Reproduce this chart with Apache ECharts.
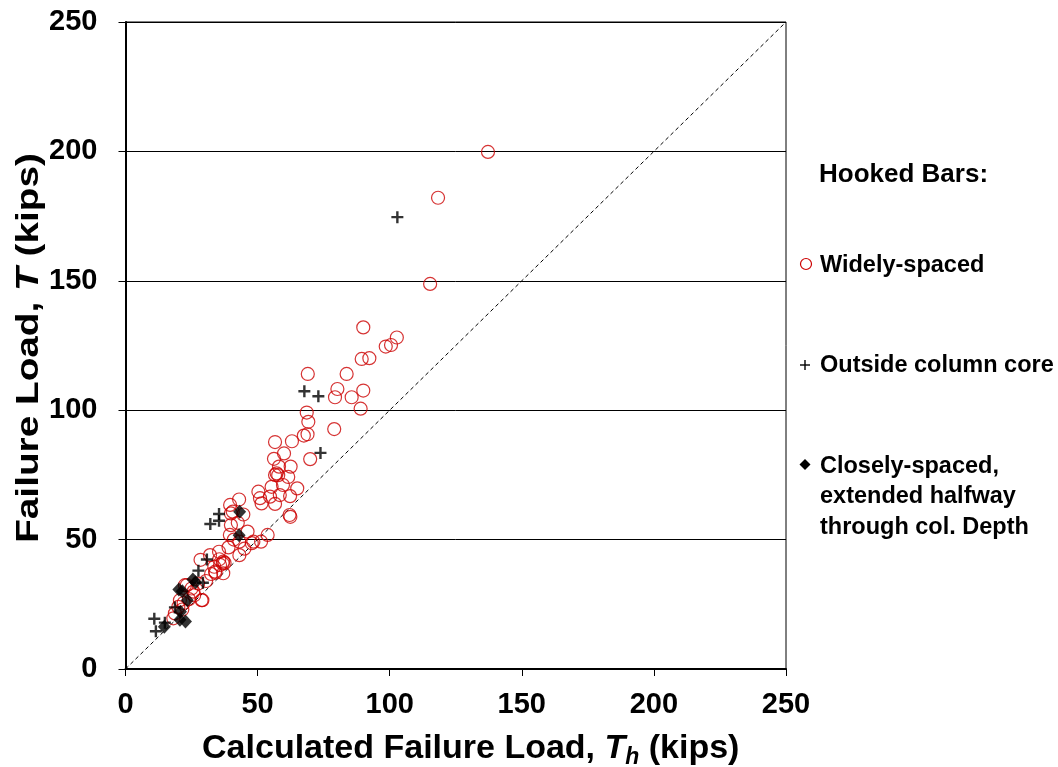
<!DOCTYPE html>
<html>
<head>
<meta charset="utf-8">
<script src="https://cdn.jsdelivr.net/npm/echarts@6/dist/echarts.min.js"></script>
<style>html,body{margin:0;padding:0;background:#fff;}#c{width:1058px;height:767px;}</style>
</head>
<body>
<div id="c"></div>
<script>
const axisTicks = [0, 50, 100, 150, 200, 250];
const diagonal = [[0, 0], [250, 250]];
const widelySpaced = [
  [137.2,199.8],[118.3,182.1],[115.3,148.8],[102.7,128.1],[90.0,132.0],[98.5,124.6],[100.5,125.2],
  [89.4,119.8],[92.3,120.1],[69.0,114.0],[83.7,114.0],[80.2,108.2],[90.0,107.6],[79.3,105.0],
  [85.6,105.0],[89.0,100.6],[68.6,99.1],[69.2,95.5],[79.0,92.7],[67.5,90.2],[68.9,90.7],
  [56.6,87.7],[63.0,88.0],[60.0,83.3],[56.2,81.2],[69.9,81.1],[58.1,78.2],[62.5,78.2],
  [57.2,75.6],[57.8,74.9],[56.6,75.0],[61.6,74.2],[55.3,70.4],[59.6,71.1],[65.0,69.8],
  [58.4,67.2],[62.3,66.8],[50.3,68.5],[50.9,66.0],[54.7,66.6],[51.5,64.0],[56.6,63.8],
  [62.1,59.5],[62.4,58.8],[43.0,65.5],[39.9,60.1],[44.6,59.7],[39.6,63.4],[40.6,60.8],
  [39.9,55.6],[42.5,56.5],[46.2,53.1],[39.5,51.8],[41.0,50.0],[47.8,48.6],[51.3,49.2],
  [53.8,51.8],[43.1,49.2],[48.4,49.2],[43.1,44.0],[45.0,46.5],[39.0,47.0],[35.4,45.3],
  [32.0,44.0],[28.4,42.2],[36.8,40.8],[37.0,41.5],[35.5,42.4],[33.6,39.5],[34.1,37.2],
  [37.0,37.0],[32.4,36.7],[35.8,40.2],[37.5,41.0],[33.9,37.6],[30.5,34.0],[27.5,33.0],
  [29.1,26.6],[28.8,26.6],[22.5,32.4],[25.0,31.1],[23.2,32.4],[25.7,29.9],[26.0,28.5],
  [24.0,27.0],[22.0,25.5],[20.6,26.6],[21.5,23.0],[20.0,24.0],[18.7,21.5],[18.1,19.6]
];
const outsideCore = [
  [102.9,174.6],[67.7,107.3],[73.0,105.4],[73.8,83.5],[35.4,59.9],[35.4,57.3],[32.1,56.0],
  [30.8,42.3],[27.6,38.0],[29.3,33.3],[18.7,23.8],[10.9,19.4],[11.5,14.6],[14.9,17.9]
];
const closelySpaced = [
  [43.2,60.8],[43.0,51.7],[25.5,34.6],[26.5,33.5],[20.2,30.7],[21.5,30.0],[23.4,26.6],
  [20.8,22.1],[22.7,18.4],[20.6,19.0],[14.7,16.3]
];
const legendTitle = 'Hooked Bars:';
const legendLabels = ['Widely-spaced', 'Outside column core', 'Closely-spaced,\nextended halfway\nthrough col. Depth'];

const FONT = '"Liberation Sans", Arial, sans-serif';
const RED = '#cc0000';
const PLUS = 'path://M4,0h2v4h4v2h-4v4h-2v-4h-4v-2h4z';

const chart = echarts.init(document.getElementById('c'), null, {renderer: 'canvas'});
chart.setOption({
  animation: false,
  backgroundColor: '#fff',
  grid: {left: 125.5, right: 272, top: 22, bottom: 98, containLabel: false, outerBoundsMode: 'none',
    show: true, borderColor: '#000', borderWidth: 1},
  xAxis: {
    type: 'value', min: 0, max: 250, interval: 50,
    axisLine: {lineStyle: {color: '#000', width: 2}},
    axisTick: {show: true, length: 7, lineStyle: {color: '#000'}},
    splitLine: {show: false},
    axisLabel: {color: '#000', fontFamily: FONT, fontWeight: 'bold', fontSize: 29, margin: 21,
      formatter: v => axisTicks.includes(v) ? String(v) : ''},
    name: '{n|Calculated Failure Load, }{i|T}{s|h}{n| (kips)}',
    nameLocation: 'middle', nameGap: 60,
    nameTextStyle: {
      padding: [0, 0, 0, 30],
      rich: {
        n: {fontFamily: FONT, fontWeight: 'bold', fontSize: 34, color: '#000', lineHeight: 40},
        i: {fontFamily: FONT, fontWeight: 'bold', fontStyle: 'italic', fontSize: 34, color: '#000', lineHeight: 40},
        s: {fontFamily: FONT, fontWeight: 'bold', fontStyle: 'italic', fontSize: 23, color: '#000', lineHeight: 40, verticalAlign: 'bottom', padding: [14, 0, 0, 0]}
      }
    }
  },
  yAxis: {
    type: 'value', min: 0, max: 250, interval: 50,
    axisLine: {show: true, lineStyle: {color: '#000', width: 2}},
    axisTick: {show: true, length: 7, lineStyle: {color: '#000'}},
    splitLine: {show: true, lineStyle: {color: '#000', width: 1}},
    axisLabel: {color: '#000', fontFamily: FONT, fontWeight: 'bold', fontSize: 29, margin: 28,
      formatter: v => axisTicks.includes(v) ? String(v) : ''}
  },
  series: [
    {type: 'line', data: diagonal, symbol: 'none', silent: true,
      lineStyle: {color: '#000', width: 1, type: [4, 3]}, z: 1},
    {type: 'scatter', name: legendLabels[0], data: widelySpaced, symbol: 'circle', symbolSize: 13,
      itemStyle: {color: 'rgba(0,0,0,0)', borderColor: RED, borderWidth: 1.2}, z: 2},
    {type: 'scatter', name: legendLabels[1], data: outsideCore, symbol: PLUS, symbolSize: 12,
      itemStyle: {color: '#000'}, z: 3},
    {type: 'scatter', name: legendLabels[2], data: closelySpaced, symbol: 'diamond', symbolSize: [13, 14],
      itemStyle: {color: '#000'}, z: 4}
  ],
  graphic: [
    {type: 'text', x: 29, y: 348, rotation: Math.PI / 2, scaleX: 1.25,
      style: {text: '{n|Failure Load, }{i|T}{n| (kips)}', align: 'center', verticalAlign: 'middle',
        rich: {
          n: {fontFamily: FONT, fontWeight: 'bold', fontSize: 31, fill: '#000'},
          i: {fontFamily: FONT, fontWeight: 'bold', fontStyle: 'italic', fontSize: 31, fill: '#000'}
        }}},
    {type: 'text', x: 819, y: 175, style: {text: legendTitle, font: 'bold 26px ' + FONT, fill: '#000', verticalAlign: 'middle'}},
    {type: 'circle', shape: {cx: 806, cy: 264, r: 5.5}, style: {fill: 'none', stroke: RED, lineWidth: 1.2}},
    {type: 'text', x: 820, y: 266, style: {text: legendLabels[0], font: 'bold 23.5px ' + FONT, fill: '#000', verticalAlign: 'middle'}},
    {type: 'rect', shape: {x: 800, y: 364.3, width: 10, height: 1.4}, style: {fill: '#000'}},
    {type: 'rect', shape: {x: 804.3, y: 360, width: 1.4, height: 10}, style: {fill: '#000'}},
    {type: 'text', x: 820, y: 366, style: {text: legendLabels[1], font: 'bold 23.5px ' + FONT, fill: '#000', verticalAlign: 'middle'}},
    {type: 'polygon', shape: {points: [[805, 459], [810.5, 464.5], [805, 470], [799.5, 464.5]]}, style: {fill: '#000'}},
    {type: 'text', x: 820, y: 451, style: {text: legendLabels[2], font: 'bold 23.5px ' + FONT, fill: '#000', lineHeight: 30.5, verticalAlign: 'top'}}
  ]
});
</script>
</body>
</html>
